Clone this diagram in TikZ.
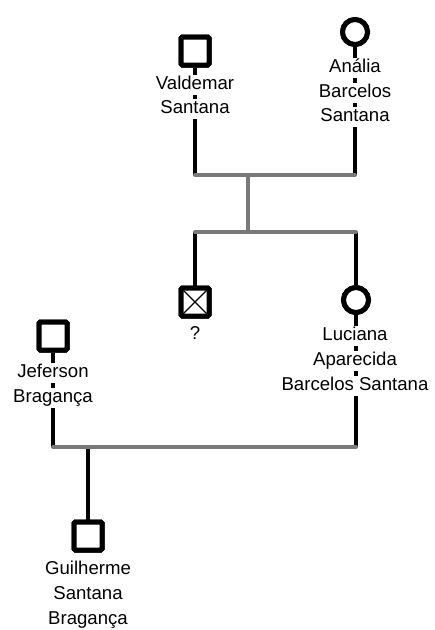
\documentclass[tikz,border=0pt]{standalone}
\usepackage{fontspec}
\setmainfont{Liberation Sans}
\begin{document}
\begin{tikzpicture}[x=1pt,y=-1pt,
  male/.style={draw=black,line width=5pt,minimum size=28pt,inner sep=0pt,rounded corners=1.5pt,fill=white},
  female/.style={draw=black,circle,line width=5pt,minimum size=25pt,inner sep=0pt,fill=white},
  lnk/.style={line width=4.5pt,black},
  mar/.style={line width=4pt,color=gray!95!black,line cap=round},
  txt/.style={fill=white,inner sep=0pt,font=\fontsize{18.6}{21}\selectfont,text height=14.5pt,text depth=5pt}]
\useasboundingbox (0,0) rectangle (435,630);
% symbols
\node[male] (val) at (195,51) {};
\node[female] (ana) at (355,32) {};
\node[male] (unk) at (195,302) {};
\node[female] (luc) at (356,300) {};
\node[male] (jef) at (53,336) {};
\node[male] (gui) at (88,536) {};
% junctions
\coordinate (m1L) at (195,175);
\coordinate (m1R) at (355,175);
\coordinate (m1M) at (248,175);
\coordinate (s1M) at (248,232);
\coordinate (s1L) at (195,232);
\coordinate (s1R) at (356,232);
\coordinate (m2L) at (53,447);
\coordinate (m2R) at (356,447);
\coordinate (m2M) at (88,447);
% black lines
\draw[lnk] (val.south) -- (m1L);
\draw[lnk] (ana.south) -- (m1R);
\draw[lnk] (s1L) -- (unk.north);
\draw[lnk] (s1R) -- (luc.north);
\draw[lnk] (luc.south) -- (m2R);
\draw[lnk] (jef.south) -- (m2L);
\draw[lnk] (m2M) -- (gui.north);
% gray lines
\draw[mar] (m1L) -- (m1R);
\draw[mar] (m1M) -- (s1M);
\draw[mar] (s1L) -- (s1R);
\draw[mar] (m2L) -- (m2R);
% redraw symbols on top
\node[male] at (val) {};
\node[female] at (ana) {};
\node[male] at (unk) {};
\node[female] at (luc) {};
\node[male] at (jef) {};
\node[male] at (gui) {};
\draw[line width=1.3pt] ([shift={(-11.5,-11.5)}]unk.center) -- ([shift={(11.5,11.5)}]unk.center);
\draw[line width=1.3pt] ([shift={(-11.5,11.5)}]unk.center) -- ([shift={(11.5,-11.5)}]unk.center);
% texts
\node[txt] (t1) at (195,85) {Valdemar};
\node[txt] (t2) at (195,109) {Santana};
\node[txt] (t3) at (355,68) {Anália};
\node[txt] (t4) at (355,93) {Barcelos};
\node[txt] (t5) at (355,117) {Santana};
\node[txt] (t6) at (195,335) {?};
\node[txt] (t7) at (355,336) {Luciana};
\node[txt] (t8) at (355,361) {Aparecida};
\node[txt] (t9) at (355,386) {Barcelos Santana};
\node[txt] (t10) at (53,373) {Jeferson};
\node[txt] (t11) at (53,398) {Bragança};
\node[txt] (t12) at (88,570) {Guilherme};
\node[txt] (t13) at (88,595) {Santana};
\node[txt] (t14) at (88,620) {Bragança};
\end{tikzpicture}
\end{document}
